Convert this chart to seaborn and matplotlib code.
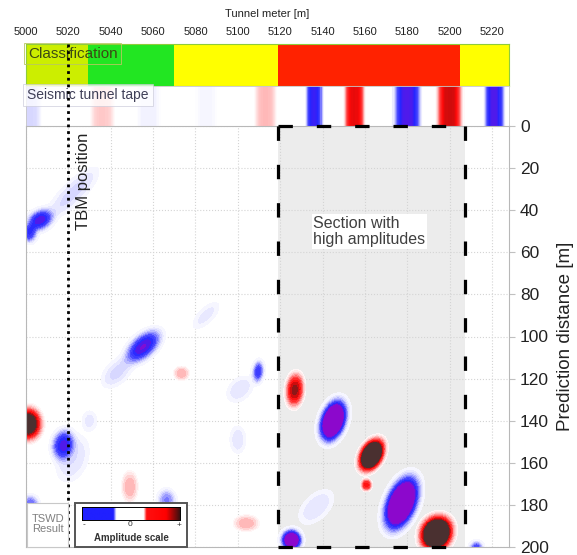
import numpy as np
import matplotlib
matplotlib.use("Agg")
import matplotlib.pyplot as plt
import seaborn as sns
from matplotlib.colors import LinearSegmentedColormap
from matplotlib.patches import Rectangle

# ---------------- data ----------------
tunnel_start, tunnel_end = 5000, 5228
tbm_position = 5020
section_start, section_end = 5119, 5207
x_ticks = list(range(5000, 5221, 20))
y_ticks = list(range(0, 201, 20))

# rock mass classification along the tunnel
class_edges = [5000, 5029.5, 5070, 5119, 5205, 5228]
class_colors = ["#ccee00", "#22e622", "#ffff00", "#ff2200", "#ffff00"]

# seismic tunnel tape: stripe centre [m], amplitude, half width [m]
tape_center = [5001, 5036, 5058, 5085, 5113, 5136, 5155, 5180, 5200, 5221]
tape_amp = [-0.12, 0.15, -0.06, -0.05, 0.18, -0.68, 0.68, -0.72, 0.72, -0.72]
tape_width = [5.0, 4.5, 5.0, 5.0, 4.0, 2.9, 3.5, 4.6, 4.4, 3.4]

# TSWD reflections: centre (tunnel meter, prediction distance), amplitude,
# extent along / across the long axis [m], orientation [deg]
blob_m = [5126.9, 5145, 5163.1, 5160.7, 5177.2, 5193.7, 5125.3, 5212.6, 5137,
          5006.6, 5001.5, 5022, 5055.3, 5043, 5073.4, 5109.6, 5101,
          5001, 5017.6, 5022, 5049, 5066.4, 5104, 5002, 5085, 5100,
          5030, 5046, 5061]
blob_d = [125.4, 140, 156.3, 170.5, 179.2, 193.5, 196.7, 200, 181,
          44.7, 51, 32, 104.8, 117, 117.5, 116.7, 125,
          141.5, 151.5, 158, 171.4, 177.7, 188.7, 179, 90, 149,
          140, 200, 201]
blob_amp = [0.82, -2.2, 2.2, 0.6, -2.2, 2.2, -1.7, -0.45, -0.1,
            -0.75, -0.55, -0.12, -0.8, -0.12, 0.2, -0.55, -0.1,
            1.3, -0.7, -0.1, 0.2, -0.3, 0.2, -0.35, -0.08, -0.1,
            -0.08, 0.25, -0.3]
blob_len = [4.6, 5.8, 4.6, 1.6, 7.6, 4.8, 2.9, 2.0, 7.0,
            4.0, 2.7, 11.0, 6.0, 6.0, 2.2, 3.2, 5.0,
            4.4, 4.4, 8.0, 4.5, 3.2, 3.6, 2.5, 6.0, 4.5,
            3.5, 2.7, 2.7]
blob_wid = [2.4, 3.4, 2.9, 1.4, 4.1, 4.1, 2.8, 1.8, 4.0,
            2.9, 2.3, 3.5, 3.3, 3.5, 2.0, 1.7, 3.5,
            3.6, 3.2, 5.0, 2.3, 2.7, 2.3, 2.3, 2.6, 2.6,
            2.6, 1.8, 1.8]
blob_ang = [95, 108, 119, 90, 111.5, 120, 90, 0, 135,
            150, 90, 135, 138, 135, 0, 95, 135,
            90, 100, 110, 90, 90, 0, 0, 135, 90,
            90, 0, 0]

# ---------------- style ----------------
sns.set_theme(style="white")
plt.rcParams["font.family"] = ["Liberation Sans", "DejaVu Sans"]

amp_cmap = LinearSegmentedColormap.from_list("amplitude", [
    (0.000, "#8c08cc"), (0.100, "#7a10d8"), (0.175, "#2424ff"),
    (0.300, "#4c4cff"), (0.425, "#cacaff"), (0.485, "#ffffff"),
    (0.515, "#ffffff"), (0.575, "#ffcaca"), (0.700, "#ff4444"),
    (0.825, "#ff0808"), (0.900, "#a01010"), (1.000, "#4a3030")])
legend_cmap = LinearSegmentedColormap.from_list("legend", [
    (0.00, "#2020ff"), (0.32, "#2020ff"), (0.35, "#ffffff"),
    (0.63, "#ffffff"), (0.66, "#ff1010"), (0.86, "#ff0000"),
    (1.00, "#3a1010")])

W, H = 577, 555
fig = plt.figure(figsize=(W / 100, H / 100), dpi=100)


def fx(px):
    return px / W


def fy(py):
    return 1 - py / H


L, R = 26, 509
ax_cls = fig.add_axes([fx(L), fy(86), fx(R) - fx(L), fy(44) - fy(86)])
ax_tape = fig.add_axes([fx(L), fy(126), fx(R) - fx(L), fy(86) - fy(126)])
ax = fig.add_axes([fx(L), fy(547), fx(R) - fx(L), fy(126) - fy(547)])

# ---------------- classification ----------------
ax_cls.bar(class_edges[:-1], 1, width=np.diff(class_edges), align="edge",
           color=class_colors, linewidth=0)
ax_cls.set_xlim(tunnel_start, tunnel_end)
ax_cls.set_ylim(0, 1)
ax_cls.xaxis.tick_top()
ax_cls.xaxis.set_label_position("top")
ax_cls.set_xticks(x_ticks)
ax_cls.set_yticks([])
ax_cls.tick_params(axis="x", length=0, labelsize=8, pad=5, labelcolor="#222222")
ax_cls.set_xlabel("Tunnel meter [m]", fontsize=8, labelpad=7, color="#222222")
for s in ax_cls.spines.values():
    s.set_color("#8fcc3a")
    s.set_linewidth(0.8)
ax_cls.text(0.004, 0.94, "Classification", transform=ax_cls.transAxes,
            ha="left", va="top", fontsize=11, color="#3c4a14",
            bbox=dict(boxstyle="square,pad=0.25", facecolor="none",
                      edgecolor="#b8c860", linewidth=0.6))

# ---------------- seismic tunnel tape ----------------
tape_x = np.arange(tunnel_start, tunnel_end, 0.5) + 0.25
tape_values = np.zeros_like(tape_x)
for c, a, w in zip(tape_center, tape_amp, tape_width):
    tape_values += a * np.exp(-0.5 * ((tape_x - c) / w) ** 4)
sns.heatmap(tape_values[None, :], ax=ax_tape, cmap=amp_cmap, vmin=-1, vmax=1,
            cbar=False, xticklabels=False, yticklabels=False)
for s in ax_tape.spines.values():
    s.set_visible(True)
    s.set_color("#c8c8c8")
    s.set_linewidth(0.6)
ax_tape.text(0.003, 0.95, "Seismic tunnel tape", transform=ax_tape.transAxes,
             ha="left", va="top", fontsize=10, color="#404058",
             bbox=dict(boxstyle="square,pad=0.3", facecolor="white", alpha=0.75,
                       edgecolor="#c8c8d8", linewidth=0.6))

# ---------------- TSWD result ----------------
gm = np.arange(tunnel_start, tunnel_end + 0.01, 0.5)
gd = np.arange(0, 200.01, 0.5)
M, D = np.meshgrid(gm, gd)
field = np.zeros_like(M)
for m0, d0, a, sl, sw, ang in zip(blob_m, blob_d, blob_amp, blob_len,
                                  blob_wid, blob_ang):
    t = np.deg2rad(ang)
    u = (M - m0) * np.cos(t) + (D - d0) * np.sin(t)
    v = -(M - m0) * np.sin(t) + (D - d0) * np.cos(t)
    q = (u / sl) ** 2 + (v / sw) ** 2
    field += a * np.exp(-(q / 2) ** 1.4)

ax.set_facecolor("white")
ax.add_patch(Rectangle((section_start, 0), section_end - section_start, 200,
                       facecolor="#ececec", edgecolor="none", zorder=0.2))
ax.grid(True, color="#d4d4d4", linestyle=":", linewidth=0.8)
ax.set_axisbelow(True)

neg_levels = [-5, -0.9, -0.78, -0.66, -0.55, -0.45, -0.36, -0.28, -0.21,
              -0.15, -0.1, -0.06, -0.035]
pos_levels = [-l for l in neg_levels[::-1]]
ax.contourf(M, D, field, levels=neg_levels, cmap=amp_cmap, vmin=-1, vmax=1,
            zorder=1)
ax.contourf(M, D, field, levels=pos_levels, cmap=amp_cmap, vmin=-1, vmax=1,
            zorder=1)

# section with high amplitudes (dashed frame)
for xs, ys in [([section_start, section_start], [0, 200]),
               ([section_end, section_end], [0, 200]),
               ([section_start, section_end], [0, 0]),
               ([section_start, section_end], [200, 200])]:
    ax.plot(xs, ys, color="black", linewidth=2.3, linestyle=(0, (4.5, 7.5)),
            solid_capstyle="butt", dash_capstyle="butt", zorder=4,
            clip_on=False)
ax.text(5135.6, 50.2, "Section with\nhigh amplitudes", ha="left", va="center",
        fontsize=11.5, color="#404040", linespacing=1.1, zorder=5,
        bbox=dict(boxstyle="square,pad=0.1", facecolor="white",
                  edgecolor="none"))

# TBM position
ax.plot([tbm_position, tbm_position], [-39, 200.5], color="black",
        linewidth=2.0, linestyle=(0, (1, 1.4)), zorder=6, clip_on=False)
ax.text(5027.1, 3.3, "TBM position", rotation=90, ha="center", va="top",
        fontsize=12, color="#222222", zorder=6)

ax.set_xlim(tunnel_start, tunnel_end)
ax.set_ylim(200, 0)
ax.set_xticks(x_ticks)
ax.set_yticks(y_ticks)
ax.tick_params(axis="x", bottom=False, labelbottom=False)
ax.yaxis.tick_right()
ax.yaxis.set_label_position("right")
ax.tick_params(axis="y", right=True, length=4, width=0.8, color="#c0c0c0",
               labelsize=12.5, pad=4, labelcolor="#222222")
ax.set_ylabel("Prediction distance [m]", fontsize=13.5, color="#222222",
              labelpad=6)
for s in ax.spines.values():
    s.set_color("#b8b8b8")
    s.set_linewidth(0.8)

# ---------------- legend ----------------
fig.patches.append(Rectangle((fx(27), fy(547)), fx(68) - fx(27),
                             fy(503) - fy(547), transform=fig.transFigure,
                             facecolor="white", edgecolor="#c8c8c8",
                             linewidth=0.8))
fig.text(fx(48), fy(524), "TSWD\nResult", ha="center", va="center",
         fontsize=8, color="#808080", linespacing=1.0)
fig.patches.append(Rectangle((fx(75), fy(547)), fx(187) - fx(75),
                             fy(503) - fy(547), transform=fig.transFigure,
                             facecolor="white", edgecolor="#555555",
                             linewidth=1.4))
cax = fig.add_axes([fx(82), fy(520), fx(180) - fx(82), fy(507) - fy(520)])
cax.set_zorder(5)
cax.imshow(np.linspace(0, 1, 256)[None, :], aspect="auto", cmap=legend_cmap)
cax.set_xticks([])
cax.set_yticks([])
for s in cax.spines.values():
    s.set_color("black")
    s.set_linewidth(0.7)
for px, lab in [(84, "-"), (130, "0"), (179, "+")]:
    fig.text(fx(px), fy(525), lab, ha="center", va="center", fontsize=6,
             color="#333333", zorder=6)
fig.text(fx(131), fy(538), "Amplitude scale", ha="center", va="center",
         fontsize=7, fontweight="bold", color="#333333", zorder=6)

fig.savefig("out.png", dpi=100)
